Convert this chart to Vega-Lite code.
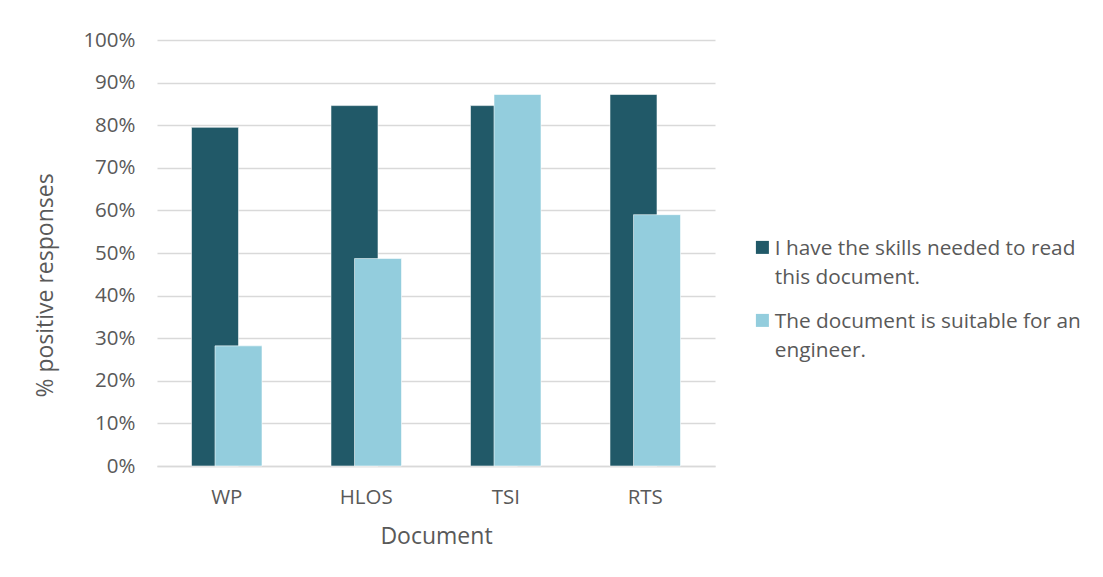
{
  "$schema": "https://vega.github.io/schema/vega-lite/v6.json",
  "autosize": {"type": "none"},
  "width": 558,
  "height": 426,
  "padding": {"left": 157, "top": 40, "right": 388, "bottom": 111},
  "background": "white",
  "data": {
    "values": [
      {"Document": "WP", "series": "I have the skills needed to read this document.", "pct": 0.795},
      {"Document": "HLOS", "series": "I have the skills needed to read this document.", "pct": 0.846},
      {"Document": "TSI", "series": "I have the skills needed to read this document.", "pct": 0.846},
      {"Document": "RTS", "series": "I have the skills needed to read this document.", "pct": 0.872},
      {"Document": "WP", "series": "The document is suitable for an engineer.", "pct": 0.282},
      {"Document": "HLOS", "series": "The document is suitable for an engineer.", "pct": 0.487},
      {"Document": "TSI", "series": "The document is suitable for an engineer.", "pct": 0.872},
      {"Document": "RTS", "series": "The document is suitable for an engineer.", "pct": 0.590}
    ]
  },
  "mark": {"type": "bar", "width": 47, "stroke": "white", "strokeWidth": 0.8, "strokeOpacity": 0.7},
  "encoding": {
    "x": {
      "field": "Document",
      "type": "nominal",
      "sort": ["WP", "HLOS", "TSI", "RTS"],
      "scale": {"paddingInner": 0.663, "paddingOuter": 0.3315},
      "axis": {
        "title": "Document",
        "labelAngle": 0,
        "ticks": false,
        "labelPadding": 21,
        "labelBaseline": "top",
        "domainColor": "#d9d9d9",
        "domainWidth": 1.5,
        "titleY": 70,
        "titleBaseline": "middle",
        "titlePadding": 10
      }
    },
    "xOffset": {
      "field": "series",
      "type": "nominal",
      "sort": ["I have the skills needed to read this document.", "The document is suitable for an engineer."],
      "scale": {"paddingInner": 0, "paddingOuter": 0}
    },
    "y": {
      "field": "pct",
      "type": "quantitative",
      "scale": {"domain": [0, 1], "nice": false},
      "axis": {
        "title": "% positive responses",
        "format": ".0%",
        "values": [0, 0.1, 0.2, 0.3, 0.4, 0.5, 0.6, 0.7, 0.8, 0.9, 1],
        "ticks": false,
        "domain": false,
        "labelPadding": 22,
        "gridColor": "#d9d9d9",
        "gridWidth": 1.3,
        "titleX": -112,
        "titleY": 245,
        "titleAlign": "center",
        "titleBaseline": "middle",
        "titleAngle": -90
      }
    },
    "color": {
      "field": "series",
      "type": "nominal",
      "sort": ["I have the skills needed to read this document.", "The document is suitable for an engineer."],
      "scale": {"range": ["#215968", "#93cddd"]},
      "legend": {
        "title": null,
        "orient": "none",
        "legendX": 595,
        "legendY": 189,
        "symbolType": "M-1,0.23H1V2.23H-1Z",
        "symbolSize": 169,
        "symbolStrokeWidth": 0,
        "labelOffset": 2,
        "labelFontSize": 20.8,
        "labelBaseline": "top",
        "labelLimit": 400,
        "rowPadding": 13,
        "labelExpr": "datum.label == 'I have the skills needed to read this document.' ? ['I have the skills needed to read', 'this document.'] : ['The document is suitable for an', 'engineer.']"
      }
    }
  },
  "config": {
    "font": "Open Sans",
    "view": {"stroke": null},
    "style": {"guide-label": {"lineHeight": 29}},
    "axis": {
      "labelFont": "Open Sans",
      "titleFont": "Open Sans",
      "labelFontSize": 20.5,
      "titleFontSize": 23,
      "labelColor": "#595959",
      "titleColor": "#595959",
      "titleFontWeight": "normal"
    },
    "legend": {
      "labelFont": "Open Sans",
      "labelColor": "#595959"
    }
  }
}
